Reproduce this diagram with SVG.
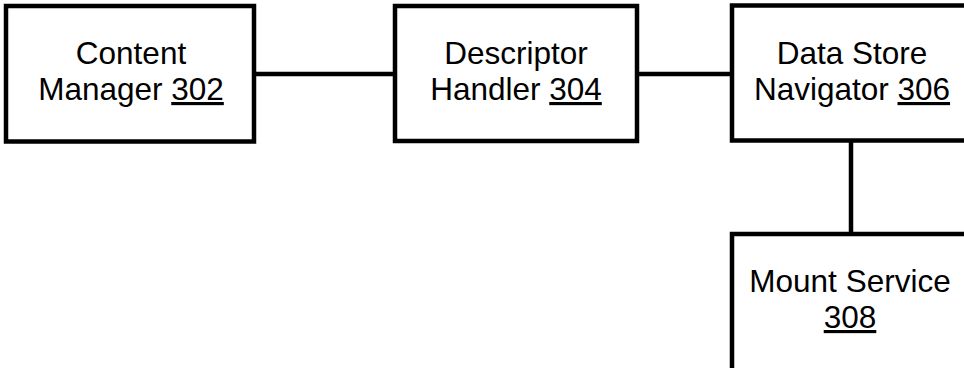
<svg xmlns="http://www.w3.org/2000/svg" width="964" height="368" viewBox="0 0 964 368">
<style>
.box{fill:#fff;stroke:#000;stroke-width:4.5}
.conn{stroke:#000;stroke-width:4.5;fill:none}
text{font-family:"Liberation Sans",Arial,sans-serif;font-size:31.5px;fill:#000;text-anchor:middle}
.u{text-decoration:underline}
</style>
<rect width="964" height="368" fill="#fff"/>
<g id="connectors">
<line class="conn" x1="254" y1="74" x2="395" y2="74"/>
<line class="conn" x1="637" y1="74" x2="732" y2="74"/>
<line class="conn" x1="851" y1="141" x2="851" y2="234"/>
</g>
<g id="content-manager">
<rect class="box" x="6" y="6" width="248" height="135.5"/>
<text x="131" y="64">Content</text>
<text x="131" y="100">Manager <tspan class="u">302</tspan></text>
</g>
<g id="descriptor-handler">
<rect class="box" x="395" y="6" width="242" height="135"/>
<text x="516" y="64">Descriptor</text>
<text x="516" y="100">Handler <tspan class="u">304</tspan></text>
</g>
<g id="data-store-navigator">
<rect class="box" x="732" y="5.5" width="240" height="135"/>
<text x="852" y="64">Data Store</text>
<text x="852" y="100">Navigator <tspan class="u">306</tspan></text>
</g>
<g id="mount-service">
<rect class="box" x="732" y="234" width="240" height="150"/>
<text x="850" y="292">Mount Service</text>
<text x="850" y="328" class="u">308</text>
</g>
</svg>
